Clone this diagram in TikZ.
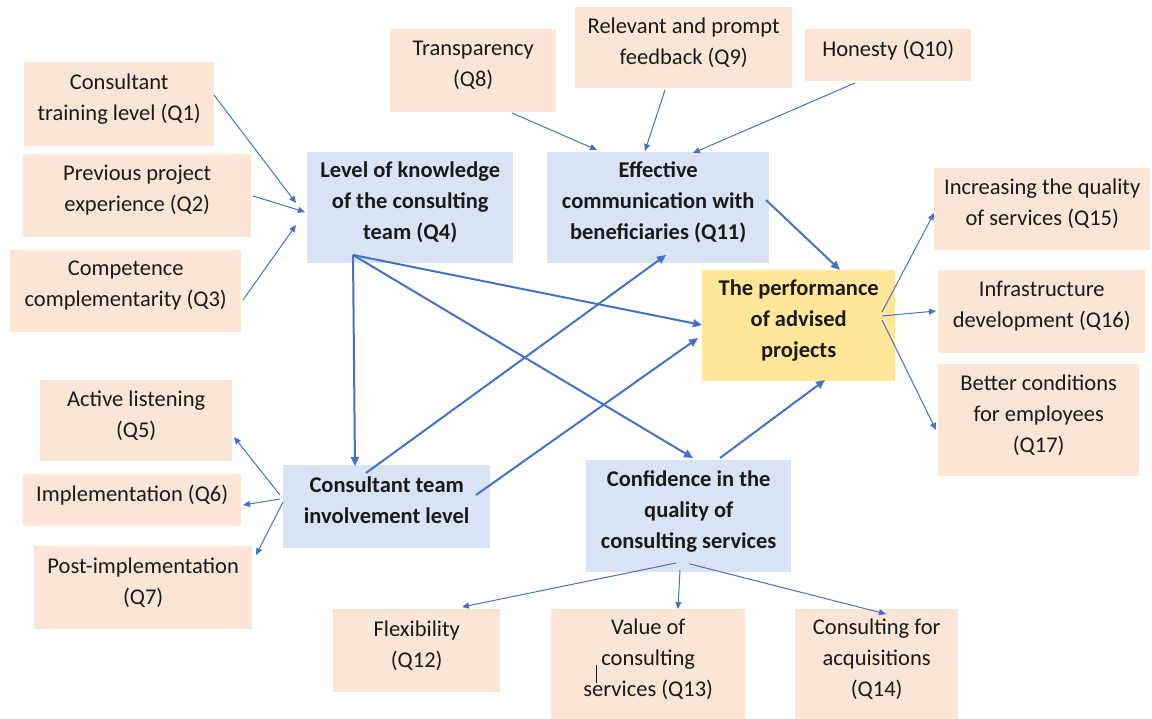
\documentclass[tikz,border=0pt]{standalone}
\usepackage{fontspec}
\setmainfont{Carlito}
\usetikzlibrary{arrows.meta}
\definecolor{peach}{HTML}{FBE5D6}
\definecolor{lblue}{HTML}{DAE3F3}
\definecolor{gold}{HTML}{FFE699}
\definecolor{arr}{HTML}{4472C4}
\definecolor{txt}{HTML}{1A1A1A}
\begin{document}
\begin{tikzpicture}[x=1pt,y=-1pt,
  box/.style={anchor=north west,inner sep=0pt,align=center,text=txt,
    font=\fontsize{22.5}{31}\selectfont,
    execute at end node={\rule[-14pt]{0pt}{0pt}}},
  pbox/.style={box,fill=peach},
  bbox/.style={box,fill=lblue,font=\fontsize{22.5}{31}\selectfont\bfseries},
  ybox/.style={box,fill=gold,font=\fontsize{22.5}{31}\selectfont\bfseries},
  thin/.style={draw=arr,line width=1pt,-{Triangle[length=7pt,width=6pt]}},
  thick/.style={draw=arr,line width=2pt,-{Triangle[length=9pt,width=8pt]}}]
\useasboundingbox (0,0) rectangle (1152,719);
% boxes
\node[pbox,minimum width=190pt,minimum height=84pt] (q1) at (24,62) {Consultant\\training level (Q1)};
\node[pbox,minimum width=228pt,minimum height=83pt] (q2) at (23,154) {Previous project\\experience (Q2)};
\node[pbox,minimum width=231pt,minimum height=82pt] (q3) at (10,250) {Competence\\complementarity (Q3)};
\node[bbox,minimum width=206pt,minimum height=111pt] (q4) at (307,152) {Level of knowledge\\of the consulting\\team (Q4)};
\node[pbox,minimum width=166pt,minimum height=83pt] (q8) at (390,29) {Transparency\\(Q8)};
\node[pbox,minimum width=217pt,minimum height=81pt] (q9) at (575,7) {Relevant and prompt\\feedback (Q9)};
\node[pbox,minimum width=166pt,minimum height=52pt] (q10) at (805,29) {Honesty (Q10)};
\node[bbox,minimum width=222pt,minimum height=111pt] (q11) at (547,152) {Effective\\communication with\\beneficiaries (Q11)};
\node[ybox,minimum width=193pt,minimum height=111pt] (perf) at (702,270) {The performance\\of advised\\projects};
\node[pbox,minimum width=216pt,minimum height=82pt] (q15) at (934,168) {Increasing the quality\\of services (Q15)};
\node[pbox,minimum width=207pt,minimum height=83pt] (q16) at (938,270) {Infrastructure\\development (Q16)};
\node[pbox,minimum width=201pt,minimum height=112pt] (q17) at (938,364) {Better conditions\\for employees\\(Q17)};
\node[pbox,minimum width=192pt,minimum height=81pt] (q5) at (40,380) {Active listening\\(Q5)};
\node[pbox,minimum width=218pt,minimum height=52pt] (q6) at (23,474) {Implementation (Q6)};
\node[pbox,minimum width=218pt,minimum height=83pt] (q7) at (34,546) {Post-implementation\\(Q7)};
\node[bbox,minimum width=207pt,minimum height=83pt] (invol) at (283,465) {Consultant team\\involvement level};
\node[bbox,minimum width=205pt,minimum height=112pt] (conf) at (586,460) {Confidence in the\\quality of\\consulting services};
\node[pbox,minimum width=167pt,minimum height=83pt] (q12) at (333,609) {Flexibility\\(Q12)};
\node[pbox,minimum width=194pt,minimum height=110pt] (q13) at (551,609) {Value of\\consulting\\services (Q13)};
\node[pbox,minimum width=163pt,minimum height=110pt] (q14) at (795,609) {Consulting for\\acquisitions\\(Q14)};
\draw[line width=0.8pt,txt] ([shift={(45,56)}]q13.north west) -- ([shift={(45,74)}]q13.north west);
% connectors
\draw[thin] ([shift={(190,33)}]q1.north west) -- ([shift={(-11,51)}]q4.north west);
\draw[thin] ([shift={(230,42)}]q2.north west) -- ([shift={(-2,60)}]q4.north west);
\draw[thin] ([shift={(233,50)}]q3.north west) -- ([shift={(-11,73)}]q4.north west);
\draw[thin] ([shift={(122,84)}]q8.north west) -- ([shift={(50,-2)}]q11.north west);
\draw[thin] ([shift={(90,83)}]q9.north west) -- ([shift={(98,-1)}]q11.north west);
\draw[thin] ([shift={(50,54)}]q10.north west) -- ([shift={(146,1)}]q11.north west);
\draw[thick] ([shift={(219,48)}]q11.north west) -- ([shift={(138,0)}]perf.north west);
\draw[thick] ([shift={(46,103)}]q4.north west) -- ([shift={(72,1)}]invol.north west);
\draw[thick] ([shift={(46,103)}]q4.north west) -- ([shift={(0,55)}]perf.north west);
\draw[thick] ([shift={(46,103)}]q4.north west) -- ([shift={(107,-2)}]conf.north west);
\draw[thick] ([shift={(83,8)}]invol.north west) -- ([shift={(119,103)}]q11.north west);
\draw[thick] ([shift={(193,30)}]invol.north west) -- ([shift={(-4,68)}]perf.north west);
\draw[thick] ([shift={(134,-2)}]conf.north west) -- ([shift={(123,110)}]perf.north west);
\draw[thin] ([shift={(180,42)}]perf.north west) -- ([shift={(0,45)}]q15.north west);
\draw[thin] ([shift={(180,46)}]perf.north west) -- ([shift={(-2,41)}]q16.north west);
\draw[thin] ([shift={(180,50)}]perf.north west) -- ([shift={(-2,66)}]q17.north west);
\draw[thin] ([shift={(-3,30)}]invol.north west) -- ([shift={(194,57)}]q5.north west);
\draw[thin] ([shift={(-3,34)}]invol.north west) -- ([shift={(220,31)}]q6.north west);
\draw[thin] ([shift={(0,37)}]invol.north west) -- ([shift={(222,9)}]q7.north west);
\draw[thin] ([shift={(90,103)}]conf.north west) -- ([shift={(129,-2)}]q12.north west);
\draw[thin] ([shift={(94,110)}]conf.north west) -- ([shift={(127,0)}]q13.north west);
\draw[thin] ([shift={(104,104)}]conf.north west) -- ([shift={(91,5)}]q14.north west);
\end{tikzpicture}
\end{document}
